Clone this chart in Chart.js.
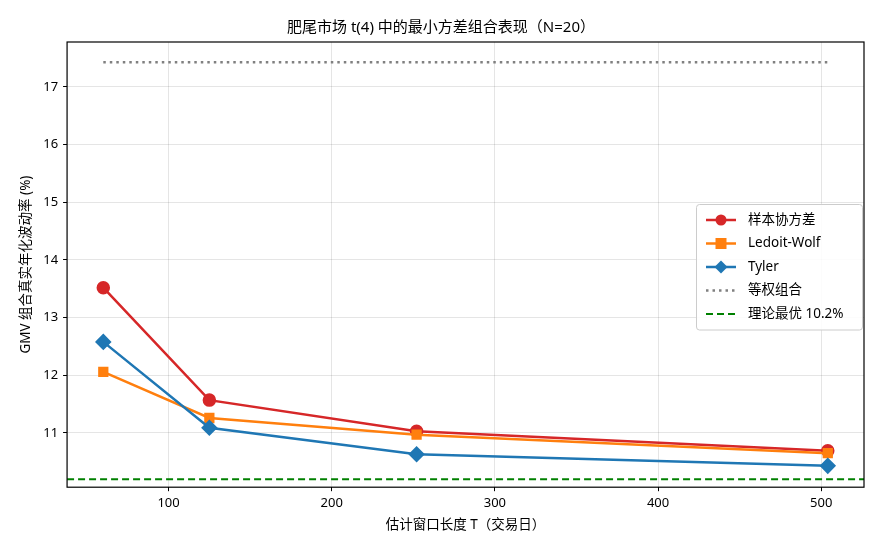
<!DOCTYPE html>
<html>
<head>
<meta charset="utf-8">
<script src="https://cdn.jsdelivr.net/npm/chart.js@4/dist/chart.umd.min.js"></script>
<style>
  html, body { margin: 0; padding: 0; background: #fff; }
  #wrap { width: 880px; height: 550px; }
</style>
</head>
<body>
<div id="wrap"><canvas id="mycanvas1" width="880" height="550"></canvas></div>
<script>
// data
var windowT = [60, 125, 252, 504];
var sampleCov = [13.52, 11.57, 11.03, 10.69];
var ledoitWolf = [12.06, 11.26, 10.97, 10.65];
var tyler = [12.58, 11.09, 10.63, 10.43];
var equalWeight = 17.43;
var theoryBest = 10.2;
var xLimits = [37.8, 526.2];
var yLimits = [10.06, 17.78];
var xTicks = [100, 200, 300, 400, 500];
var yTicks = [11, 12, 13, 14, 15, 16, 17];

var FONT = "'Noto Sans', 'Noto Sans CJK SC', sans-serif";

function pts(xs, ys) {
	var out = [];
	for (var i in xs) {
		out.push({x: xs[i], y: ys[i]});
	}
	return out;
}

var chartdata = {
	datasets: [
		{
			label: "样本协方差",
			data: pts(windowT, sampleCov),
			borderColor: "#d62728",
			backgroundColor: "#d62728",
			borderWidth: 2.5,
			pointStyle: "circle",
			pointRadius: 5.5,
			order: 4
		},
		{
			label: "Ledoit-Wolf",
			data: pts(windowT, ledoitWolf),
			borderColor: "#ff7f0e",
			backgroundColor: "#ff7f0e",
			borderWidth: 2.5,
			pointStyle: "rect",
			pointRadius: 5.5,
			order: 3
		},
		{
			label: "Tyler",
			data: pts(windowT, tyler),
			borderColor: "#1f77b4",
			backgroundColor: "#1f77b4",
			borderWidth: 2.5,
			pointStyle: "rectRot",
			pointRadius: 6.5,
			order: 2
		},
		{
			label: "等权组合",
			data: pts([windowT[0], windowT[windowT.length - 1]], [equalWeight, equalWeight]),
			borderColor: "#808080",
			backgroundColor: "#808080",
			borderWidth: 2.5,
			borderDash: [2.5, 4],
			pointRadius: 0,
			order: 1
		},
		{
			label: "理论最优 10.2%",
			data: pts(xLimits, [theoryBest, theoryBest]),
			borderColor: "#008000",
			backgroundColor: "#008000",
			borderWidth: 2,
			borderDash: [7, 4],
			pointRadius: 0,
			order: 0
		}
	]
};

// full box around the plot area like matplotlib spines
var frame = {
	id: "frame",
	afterDatasetsDraw: function(chart) {
		var a = chart.chartArea, c = chart.ctx;
		c.save();
		c.strokeStyle = "#000";
		c.lineWidth = 1.2;
		c.strokeRect(a.left, a.top, a.right - a.left, a.bottom - a.top);
		c.restore();
	}
};

// legend box inside the plot, right side
var boxLegend = {
	id: "boxLegend",
	afterDraw: function(chart) {
		var c = chart.ctx, a = chart.chartArea;
		var ds = chart.data.datasets;
		var w = 166, rowH = 23.5, h = ds.length * rowH + 8;
		var x0 = a.right - w - 2, y0 = 204;
		c.save();
		c.fillStyle = "rgba(255,255,255,0.85)";
		c.strokeStyle = "#ccc";
		c.lineWidth = 1;
		c.beginPath();
		c.roundRect(x0 + 0.5, y0 + 0.5, w, h, 3);
		c.fill();
		c.stroke();
		c.font = "13.5px " + FONT;
		c.textBaseline = "middle";
		for (var i = 0; i < ds.length; i++) {
			var d = ds[i];
			var cy = y0 + 16 + i * rowH;
			var lx = x0 + 10, len = 30;
			c.strokeStyle = d.borderColor;
			c.lineWidth = d.borderWidth;
			c.setLineDash(d.borderDash || []);
			c.beginPath();
			c.moveTo(lx, cy);
			c.lineTo(lx + len, cy);
			c.stroke();
			c.setLineDash([]);
			if (d.pointRadius > 0) {
				c.fillStyle = d.backgroundColor;
				c.beginPath();
				var r = d.pointRadius, mx = lx + len / 2;
				if (d.pointStyle === "circle") {
					c.arc(mx, cy, r, 0, Math.PI * 2);
				} else if (d.pointStyle === "rect") {
					c.rect(mx - r, cy - r, r * 2, r * 2);
				} else {
					c.moveTo(mx, cy - r);
					c.lineTo(mx + r, cy);
					c.lineTo(mx, cy + r);
					c.lineTo(mx - r, cy);
					c.closePath();
				}
				c.fill();
			}
			c.fillStyle = "#000";
			c.fillText(d.label, lx + len + 12, cy);
		}
		c.restore();
	}
};

function keepTicks(list) {
	return function(axis) {
		axis.ticks = list.map(function(v) { return {value: v}; });
	};
}

var ctx = document.getElementById("mycanvas1");

var LineGraph = new Chart(ctx, {
	type: "line",
	data: chartdata,
	plugins: [frame, boxLegend],
	options: {
		responsive: false,
		animation: false,
		layout: {padding: {left: 18, right: 16, top: 0, bottom: 17}},
		plugins: {
			legend: {display: false},
			tooltip: {enabled: false},
			title: {
				display: true,
				text: "肥尾市场 t(4) 中的最小方差组合表现（N=20）",
				color: "#000",
				font: {family: FONT, size: 15, weight: "normal"},
				padding: {top: 19, bottom: 5}
			}
		},
		scales: {
			x: {
				type: "linear",
				min: xLimits[0],
				max: xLimits[1],
				afterBuildTicks: keepTicks(xTicks),
				border: {display: false},
				grid: {color: "rgba(0,0,0,0.1)", tickColor: "#000", tickLength: 4},
				ticks: {color: "#000", font: {family: FONT, size: 13}, padding: 4, maxRotation: 0},
				title: {display: true, text: "估计窗口长度 T（交易日）", color: "#000", font: {family: FONT, size: 13.5}, padding: {top: 2, bottom: 0}}
			},
			y: {
				type: "linear",
				min: yLimits[0],
				max: yLimits[1],
				afterBuildTicks: keepTicks(yTicks),
				border: {display: false},
				grid: {color: "rgba(0,0,0,0.1)", tickColor: "#000", tickLength: 4},
				ticks: {color: "#000", font: {family: FONT, size: 13}, padding: 5},
				title: {display: true, text: "GMV 组合真实年化波动率 (%)", color: "#000", font: {family: FONT, size: 13.5}, padding: {top: 0, bottom: 4}}
			}
		}
	}
});
</script>
</body>
</html>
